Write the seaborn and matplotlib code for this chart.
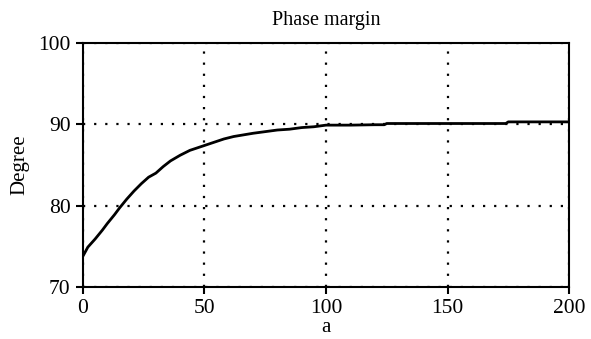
import matplotlib
matplotlib.use("Agg")
import matplotlib.pyplot as plt
import seaborn as sns
import pandas as pd

a_vals = [0, 2, 5, 8, 10, 13, 15, 18, 21, 24, 27, 30, 33, 36, 40, 44, 47, 50, 54, 58, 62, 66, 70, 75, 80, 85, 90, 95, 100, 110, 120, 124, 125, 150, 174, 175, 200]
deg_vals = [73.8, 74.9, 75.9, 77.0, 77.8, 78.9, 79.7, 80.8, 81.8, 82.7, 83.5, 84.0, 84.8, 85.5, 86.2, 86.8, 87.1, 87.4, 87.8, 88.2, 88.5, 88.7, 88.9, 89.1, 89.3, 89.4, 89.6, 89.7, 89.9, 89.9, 89.95, 89.95, 90.1, 90.1, 90.1, 90.3, 90.3]

x_ticks = [0, 50, 100, 150, 200]
y_ticks = [70, 80, 90, 100]

sns.set_theme(style="ticks")
plt.rcParams['font.family'] = ['Liberation Serif', 'DejaVu Serif']

df = pd.DataFrame({"a": a_vals, "Degree": deg_vals})

fig = plt.figure(figsize=(5.91, 3.39), dpi=100)
ax = fig.add_axes([0.1404, 0.1534, 0.8224, 0.7198])
sns.lineplot(data=df, x="a", y="Degree", ax=ax, color="black", linewidth=2.0)

ax.set_xlim(0, 200)
ax.set_ylim(70, 100)
ax.set_xticks(x_ticks)
ax.set_yticks(y_ticks)
ax.tick_params(direction="out", length=5, width=1.5, labelsize=15.5, color="black", labelcolor="black", pad=4)
for s in ax.spines.values():
    s.set_color("black")
    s.set_linewidth(1.5)
    s.set_visible(True)
ax.grid(True, color="black", linestyle=(0, (1, 4)), linewidth=1.6)
ax.set_xlabel("a", fontsize=15, color="black", labelpad=0)
ax.set_ylabel("Degree", fontsize=15, color="black", labelpad=6)
ax.set_title("Phase margin", fontsize=14.5, color="black", pad=13)
ax.set_facecolor("white")
fig.patch.set_facecolor("white")
fig.savefig("out.png", dpi=100)
